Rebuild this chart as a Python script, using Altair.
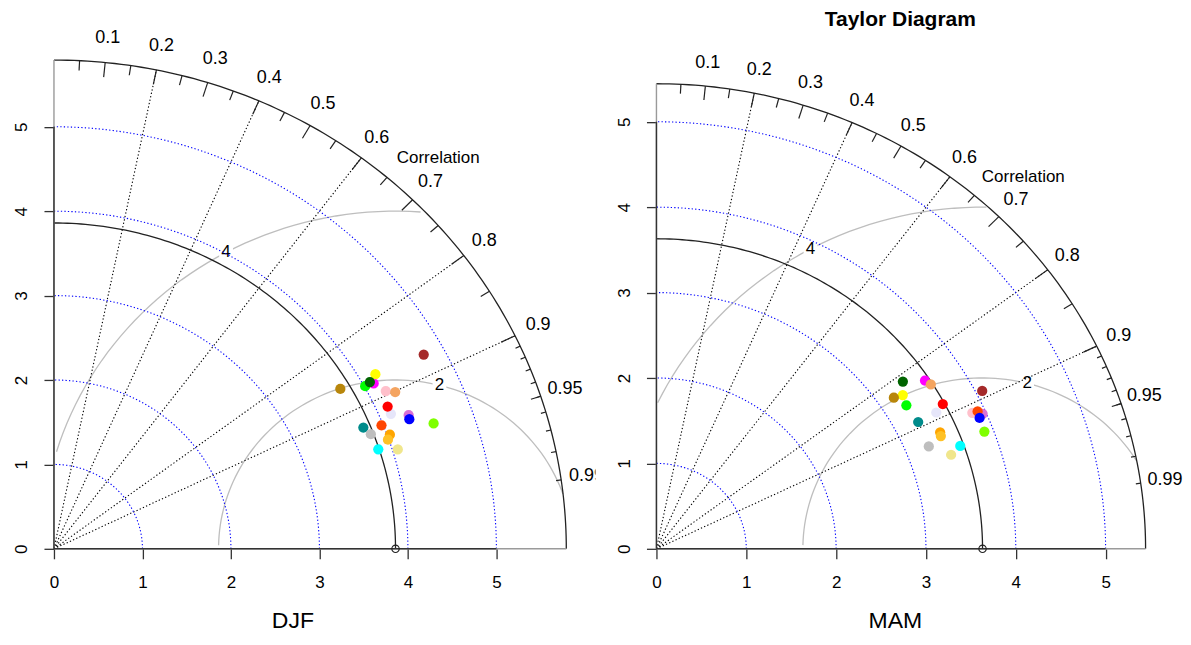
import numpy as np
import pandas as pd
import altair as alt

FONT = "Liberation Sans"

# model colours, same order in both seasons (later ones are drawn on top)
colors = ["#E6E6FA", "#FFC0CB", "#FF00FF", "#F4A460", "#DA70D6", "#FF4500",
          "#0000FF", "#00FF00", "#FFFF00", "#006400", "#B8860B", "#FF0000",
          "#008B8B", "#BEBEBE", "#FFA500", "#FFC125", "#00FFFF", "#F0E68C",
          "#7FFF00", "#A52A2A"]

djf_sd = [4.13, 4.19, 4.11, 4.28, 4.31, 3.98, 4.30, 4.01, 4.18, 4.08,
          3.75, 4.13, 3.78, 3.83, 4.03, 3.99, 3.85, 4.06, 4.54, 4.77]
djf_cor = [0.922, 0.895, 0.879, 0.901, 0.930, 0.930, 0.934, 0.877, 0.869, 0.875,
           0.863, 0.913, 0.925, 0.935, 0.942, 0.946, 0.952, 0.957, 0.945, 0.876]

mam_sd = [3.50, 3.86, 3.58, 3.61, 3.96, 3.92, 3.91, 3.25, 3.28, 3.37,
          3.18, 3.61, 3.27, 3.26, 3.44, 3.43, 3.59, 3.46, 3.90, 4.07]
mam_cor = [0.890, 0.911, 0.835, 0.846, 0.917, 0.912, 0.920, 0.856, 0.836, 0.814,
           0.831, 0.883, 0.891, 0.930, 0.918, 0.923, 0.942, 0.948, 0.936, 0.891]

djf_ref = 3.86
mam_ref = 3.63

corr_labels = [0.1, 0.2, 0.3, 0.4, 0.5, 0.6, 0.7, 0.8, 0.9, 0.95, 0.99]
corr_lines = [0.2, 0.4, 0.6, 0.8, 0.9]
big_ticks = [0.1, 0.2, 0.3, 0.4, 0.5, 0.6, 0.7, 0.8, 0.9]
med_ticks = [0.05, 0.15, 0.25, 0.35, 0.45, 0.55, 0.65, 0.75, 0.85, 0.95]
sml_ticks = [0.91, 0.92, 0.93, 0.94, 0.95, 0.96, 0.97, 0.98, 0.99]
sd_ticks = [0, 1, 2, 3, 4, 5]
rms_levels = [2, 4]

DOT = [1.3, 2.2]


def quarter(r, name, n=120):
    t = np.linspace(0, np.pi / 2, n)
    return pd.DataFrame({"x": r * np.cos(t), "y": r * np.sin(t), "k": name, "i": np.arange(n)})


def taylor(season, sd, cor, sd_r, xmax, ymax, width, height, label_x, title=None, clip_edge=False):
    maxsd = 1.5 * sd_r
    xs = alt.Scale(domain=[0, xmax], nice=False, zero=False)
    ys = alt.Scale(domain=[0, ymax], nice=False, zero=False)
    xaxis = alt.Axis(values=sd_ticks, format="d", title=None, grid=False, domain=False,
                     tickSize=10, tickColor="#333333", tickWidth=1.3, labelFontSize=17, labelFont=FONT,
                     labelColor="black", labelPadding=16, labelBaseline="top", labelAlign="center",
                     labelFlush=False, labelOverlap=False)
    yaxis = alt.Axis(values=sd_ticks, format="d", title=None, grid=False, domain=False,
                     tickSize=10, tickColor="#333333", tickWidth=1.3, labelFontSize=17, labelFont=FONT,
                     labelColor="black", labelPadding=22, labelAngle=270, labelAlign="center",
                     labelBaseline="middle", labelFlush=False, labelOverlap=False)

    def X(f):
        return alt.X(f, type="quantitative", scale=xs, axis=xaxis)

    def Y(f):
        return alt.Y(f, type="quantitative", scale=ys, axis=yaxis)

    # grey centred-RMS arcs, the way plotrix builds them
    theta = np.arange(0, np.pi, 0.03)
    rows, labs = [], []
    for g, lp in zip(rms_levels, [44, 69]):
        xc = np.cos(theta) * g + sd_r
        yc = np.sin(theta) * g
        out = np.where(xc ** 2 + yc ** 2 > maxsd ** 2)[0]
        neg = np.where(xc < 0)[0]
        s = out.max() + 1 if len(out) else 0
        e = neg.min() - 1 if len(neg) else len(theta) - 1
        for i in range(s, e + 1):
            rows.append({"g": g, "i": i, "x": xc[i], "y": yc[i]})
        labs.append({"x": xc[lp], "y": yc[lp], "t": str(g)})
    rms = pd.DataFrame(rows)
    rms_lab = pd.DataFrame(labs)

    rms_arcs = alt.Chart(rms).mark_line(color="#BEBEBE", strokeWidth=1.3).encode(
        X("x"), Y("y"), detail="g:N", order="i:Q")
    rms_box = alt.Chart(rms_lab).mark_square(color="white", size=190, opacity=1).encode(X("x"), Y("y"))
    rms_txt = alt.Chart(rms_lab).mark_text(font=FONT, fontSize=17, color="black").encode(
        X("x"), Y("y"), text="t:N")

    # dotted correlation rays
    rays = pd.DataFrame({"x": 0.0, "y": 0.0,
                         "x2": [maxsd * c for c in corr_lines],
                         "y2": [maxsd * np.sqrt(1 - c * c) for c in corr_lines]})
    ray_layer = alt.Chart(rays).mark_rule(color="black", strokeWidth=1.1, strokeDash=DOT).encode(
        X("x"), Y("y"), x2="x2", y2="y2")

    # blue sd arcs
    blue = pd.concat([quarter(r, str(r)) for r in sd_ticks[1:] if r < maxsd])
    blue_layer = alt.Chart(blue).mark_line(color="#0000FF", strokeWidth=1.1, strokeDash=DOT).encode(
        X("x"), Y("y"), detail="k:N", order="i:Q")

    # outer arc and reference arc
    solid = pd.concat([quarter(maxsd, "outer"), quarter(sd_r, "ref")])
    solid_layer = alt.Chart(solid).mark_line(color="#222222", strokeWidth=1.3).encode(
        X("x"), Y("y"), detail="k:N", order="i:Q")

    # axis lines
    axl = pd.DataFrame({"x": [0, 0, 0, 0], "y": [0, 0, 0, 0],
                        "x2": [maxsd, 0, 5, 0], "y2": [0, maxsd, 0, 5],
                        "c": ["#9A9A9A", "#9A9A9A", "#333333", "#333333"]})
    axis_layer = alt.Chart(axl).mark_rule(strokeWidth=1.4).encode(
        X("x"), Y("y"), x2="x2", y2="y2", color=alt.Color("c:N", scale=None))

    # correlation ticks on the outer arc
    trows = []
    for lst, inner in [(big_ticks, 0.97), (med_ticks, 0.98), (sml_ticks, 0.99)]:
        for c in lst:
            s = np.sqrt(1 - c * c)
            trows.append({"x": c * maxsd, "y": s * maxsd, "x2": c * inner * maxsd, "y2": s * inner * maxsd})
    tick_layer = alt.Chart(pd.DataFrame(trows)).mark_rule(color="#222222", strokeWidth=1.2).encode(
        X("x"), Y("y"), x2="x2", y2="y2")

    # correlation labels
    cl = pd.DataFrame({"x": [1.05 * maxsd * c for c in corr_labels],
                       "y": [1.05 * maxsd * np.sqrt(1 - c * c) for c in corr_labels],
                       "t": [str(c) for c in corr_labels]})
    if clip_edge:
        cl_main, cl_edge = cl.iloc[:-1], cl.iloc[-1:]
    else:
        cl_main, cl_edge = cl, cl.iloc[0:0]
    cl_layer = alt.Chart(cl_main).mark_text(font=FONT, fontSize=18, color="black").encode(
        X("x"), Y("y"), text="t:N")
    layers = [rms_arcs, rms_box, rms_txt, ray_layer, blue_layer, solid_layer, axis_layer,
              tick_layer, cl_layer]
    if len(cl_edge):
        layers.append(alt.Chart(cl_edge).mark_text(font=FONT, fontSize=18, color="black", clip=True).encode(
            X("x"), Y("y"), text="t:N"))

    word = pd.DataFrame({"x": [0.75 * maxsd], "y": [0.8 * maxsd], "t": ["Correlation"]})
    layers.append(alt.Chart(word).mark_text(font=FONT, fontSize=17, color="black").encode(
        X("x"), Y("y"), text="t:N"))

    refp = pd.DataFrame({"x": [sd_r], "y": [0.0]})
    layers.append(alt.Chart(refp).mark_point(shape="circle", filled=False, size=55, color="#222222",
                                             strokeWidth=1.1, opacity=1).encode(X("x"), Y("y")))

    pts = pd.DataFrame({"x": [s * c for s, c in zip(sd, cor)],
                        "y": [s * np.sqrt(1 - c * c) for s, c in zip(sd, cor)],
                        "c": colors})
    layers.append(alt.Chart(pts).mark_circle(size=105, opacity=1).encode(
        X("x"), Y("y"), color=alt.Color("c:N", scale=None)))

    sl = pd.DataFrame({"x": [label_x], "y": [-0.85], "t": [season]})
    layers.append(alt.Chart(sl).mark_text(font=FONT, fontSize=23, color="black").encode(
        X("x"), Y("y"), text="t:N"))
    if title:
        tl = pd.DataFrame({"x": [2.715], "y": [6.19], "t": [title]})
        layers.append(alt.Chart(tl).mark_text(font=FONT, fontSize=21, fontWeight="bold",
                                              color="black").encode(X("x"), Y("y"), text="t:N"))

    return alt.layer(*layers).properties(width=width, height=height)


left = taylor("DJF", djf_sd, djf_cor, djf_ref, 6.12, 5.8, 542, 490, 2.7, clip_edge=True)
right = taylor("MAM", mam_sd, mam_cor, mam_ref, 5.45, 5.732, 490, 490, 2.66, title="Taylor Diagram")

chart = alt.hconcat(left, right, spacing=61, bounds="flush").configure_view(
    stroke=None).properties(padding={"left": 4, "top": 0, "right": 0, "bottom": 0})

chart.save("out.html", embed_options={"renderer": "svg", "actions": False})
